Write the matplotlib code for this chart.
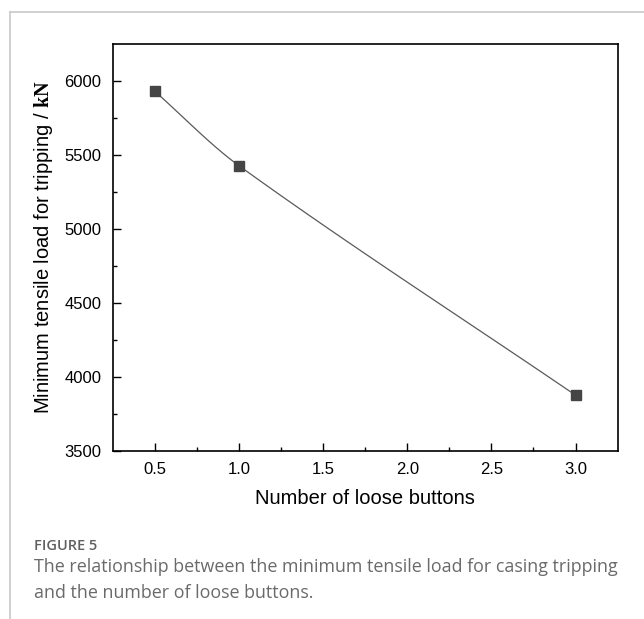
import matplotlib
matplotlib.use("Agg")
import matplotlib.pyplot as plt
import numpy as np
from matplotlib.lines import Line2D

# data
loose_buttons = np.array([0.5, 1.0, 3.0])
min_load_kn = np.array([5930.0, 5427.0, 3875.0])

x_ticks = [0.5, 1.0, 1.5, 2.0, 2.5, 3.0]
y_ticks = [3500, 4000, 4500, 5000, 5500, 6000]

caption_head = "FIGURE 5"
caption_text = ("The relationship between the minimum tensile load for casing tripping\n"
                "and the number of loose buttons.")

plt.rcParams["font.family"] = "Liberation Sans"
plt.rcParams["mathtext.fontset"] = "custom"
plt.rcParams["mathtext.bf"] = "Liberation Serif:bold"


def hermite_curve(x, y, n=60):
    """Smooth connecting line (Origin-style spline look) through the points."""
    h = np.diff(x)
    sec = np.diff(y) / h
    mid = (h[0] * sec[0] + h[1] * sec[1]) / (h[0] + h[1])
    d = np.array([sec[0], mid, sec[1]])
    xs, ys = [], []
    for i in range(len(x) - 1):
        t = np.linspace(0, 1, n)
        h00 = 2 * t**3 - 3 * t**2 + 1
        h10 = t**3 - 2 * t**2 + t
        h01 = -2 * t**3 + 3 * t**2
        h11 = t**3 - t**2
        xs.append(x[i] + t * h[i])
        ys.append(h00 * y[i] + h10 * h[i] * d[i] + h01 * y[i + 1] + h11 * h[i] * d[i + 1])
    return np.concatenate(xs), np.concatenate(ys)


fig = plt.figure(figsize=(6.44, 6.19), dpi=100)
ax = fig.add_axes([0.175, 0.272, 0.784, 0.657])

cx, cy = hermite_curve(loose_buttons, min_load_kn)
ax.plot(cx, cy, color="#5a5a5a", lw=0.9, zorder=2)
ax.plot(loose_buttons, min_load_kn, ls="none", marker="s", ms=6.8,
        color="#454545", zorder=3)

ax.set_xlim(0.25, 3.25)
ax.set_ylim(3500, 6250)
ax.set_xticks(x_ticks)
ax.set_xticklabels([f"{v:.1f}" for v in x_ticks])
ax.set_yticks(y_ticks)
ax.set_xticks(np.arange(0.75, 3.0, 0.5), minor=True)
ax.set_yticks(np.arange(3750, 6250, 500), minor=True)

ax.tick_params(which="both", direction="in", top=False, right=False,
               width=1.0, labelsize=12, pad=8)
ax.tick_params(which="major", length=5.5)
ax.tick_params(which="minor", length=3)
for s in ax.spines.values():
    s.set_linewidth(1.2)

ax.set_xlabel("Number of loose buttons", fontsize=14.5, labelpad=9)
ax.set_ylabel(r"Minimum tensile load for tripping / $\mathbf{kN}$",
              fontsize=14.5, labelpad=7)

# page frame lines (light gray) from the article layout
fig.add_artist(Line2D([10 / 644, 10 / 644], [0, 1 - 12 / 619],
                      transform=fig.transFigure, color="#c8c8c8", lw=1.2))
fig.add_artist(Line2D([10 / 644, 1], [1 - 12 / 619, 1 - 12 / 619],
                      transform=fig.transFigure, color="#c8c8c8", lw=1.2))

fig.text(34 / 644, 1 - 546 / 619, caption_head, family="Open Sans",
         weight="semibold", fontsize=10.5, color="#606060", va="center")
fig.text(34 / 644, 1 - 558 / 619, caption_text, family="Open Sans",
         fontsize=12.9, color="#6a6a6a", va="top", linespacing=1.55)

fig.savefig("out.png", dpi=100)
